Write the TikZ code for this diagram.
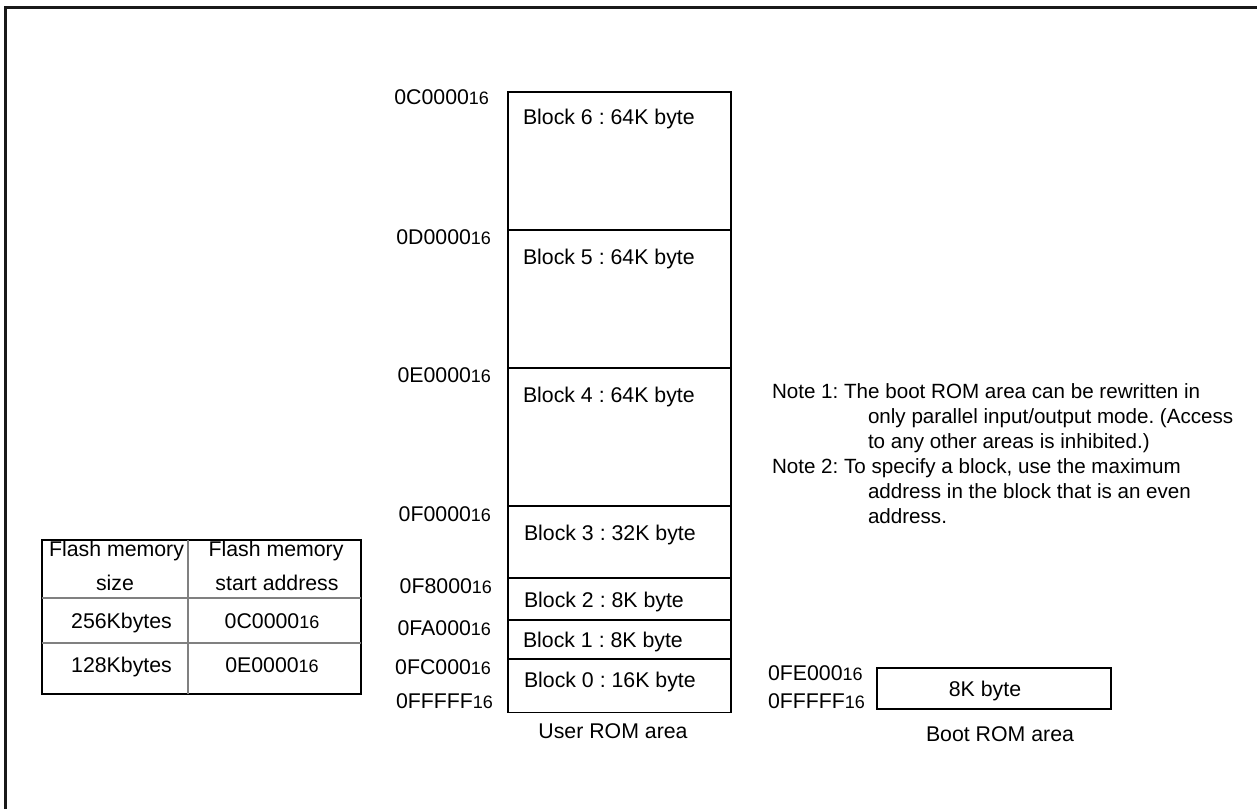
\documentclass[tikz,border=0pt]{standalone}
\usepackage{fontspec}
\setmainfont{Liberation Sans}
\frenchspacing
\newcommand{\hx}[1]{#1{\fontsize{18}{20}\selectfont 16}}
\begin{document}
\begin{tikzpicture}[x=1pt,y=-1pt,
  every node/.style={font=\fontsize{21.3}{25}\selectfont\frenchspacing, inner sep=0pt, outer sep=0pt},
  blk/.style={draw, line width=1.5pt, minimum width=223pt},
  addr/.style={anchor=base east},
  txt/.style={anchor=base west},
  note/.style={anchor=base west, font=\fontsize{20.6}{25}\selectfont\frenchspacing},
  ctr/.style={anchor=base},
  grid/.style={draw=black!50, line width=1.4pt}]
\useasboundingbox (0,0) rectangle (1257,809);
% outer frame (only top and left edges visible)
\draw[line width=2.8pt, black!90] (5.3,809) -- (5.3,7.5) -- (1257,7.5);

% user ROM blocks
\node[blk, minimum height=138pt] (b6) at (619.5,161) {};
\node[blk, minimum height=138pt] (b5) at (619.5,299) {};
\node[blk, minimum height=138pt] (b4) at (619.5,437) {};
\node[blk, minimum height=72pt]  (b3) at (619.5,542) {};
\node[blk, minimum height=42pt]  (b2) at (619.5,599) {};
\node[blk, minimum height=39pt]  (b1) at (619.5,639.5) {};
\node[blk, minimum height=53.7pt] (b0) at (619.5,685.85) {};

\node[txt] (t6) at (523,124.5) {Block 6 : 64K byte};
\node[txt] (t5) at (523,264.5) {Block 5 : 64K byte};
\node[txt] (t4) at (523,402.5) {Block 4 : 64K byte};
\node[txt] (t3) at (524,540.5) {Block 3 : 32K byte};
\node[txt] (t2) at (524,607.5) {Block 2 : 8K byte};
\node[txt] (t1) at (523,647.5) {Block 1 : 8K byte};
\node[txt] (t0) at (524,687.5) {Block 0 : 16K byte};

% addresses
\node[addr] (a6) at (489,104.5) {\hx{0C0000}};
\node[addr] (a5) at (491,244.5) {\hx{0D0000}};
\node[addr] (a4) at (491,382.5) {\hx{0E0000}};
\node[addr] (a3) at (491,521.5) {\hx{0F0000}};
\node[addr] (a2) at (492,593.5) {\hx{0F8000}};
\node[addr] (a1) at (491,635.5) {\hx{0FA000}};
\node[addr] (a0) at (491,674.5) {\hx{0FC000}};
\node[addr] (aend) at (493,708.5) {\hx{0FFFFF}};

\node[ctr] (user) at (613,738.5) {User ROM area};

% table
\node[draw, line width=1.8pt, minimum width=319pt, minimum height=154pt] (tbl) at (201.5,617) {};
\coordinate (r1l) at (42,598); \coordinate (r1r) at (361,598);
\coordinate (r2l) at (42,643); \coordinate (r2r) at (361,643);
\coordinate (ct) at (188,540); \coordinate (cb) at (188,694);
\draw[grid] (r1l) -- (r1r);
\draw[grid] (r2l) -- (r2r);
\draw[grid] (ct) -- (cb);
\node[ctr] (h1a) at (116.5,556.7) {Flash memory};
\node[ctr] (h1b) at (115,590) {size};
\node[ctr] (h2a) at (276,556.7) {Flash memory};
\node[ctr] (h2b) at (277,590) {start address};
\node[ctr] (s1) at (121.5,628.5) {256Kbytes};
\node[ctr] (s2) at (121.5,672) {128Kbytes};
\node[ctr] (d1) at (272,628.5) {\hx{0C0000}};
\node[ctr] (d2) at (272,672) {\hx{0E0000}};

% notes
\node[note] (n1) at (772,398) {Note 1: The boot ROM area can be rewritten in};
\node[note] (n1b) at (868,423) {only parallel input/output mode. (Access};
\node[note] (n1c) at (868,448) {to any other areas is inhibited.)};
\node[note] (n2) at (772,473) {Note 2: To specify a block, use the maximum};
\node[note] (n2b) at (868,498) {address in the block that is an even};
\node[note] (n2c) at (868,523) {address.};

% boot ROM
\node[draw, line width=1.5pt, minimum width=234pt, minimum height=41pt] (boot) at (994,688.5) {};
\node[ctr] (bt) at (985,696) {8K byte};
\node[txt] (ba0) at (768,680) {\hx{0FE000}};
\node[txt] (ba1) at (768,708.3) {\hx{0FFFFF}};
\node[ctr] (bl) at (1000,741.7) {Boot ROM area};
\end{tikzpicture}
\end{document}
